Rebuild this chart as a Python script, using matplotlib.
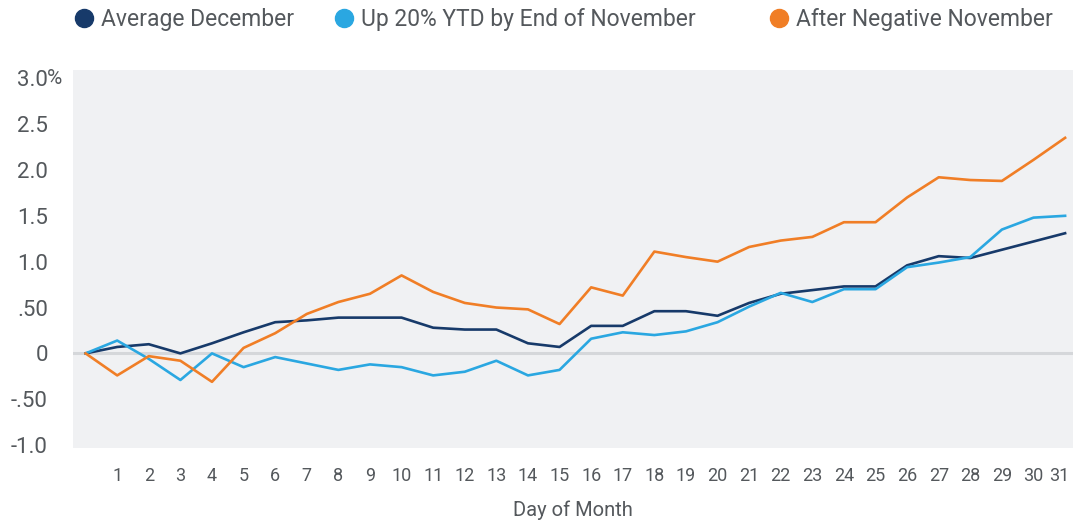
import matplotlib.pyplot as plt
import matplotlib.transforms as mtransforms
from matplotlib import font_manager
from matplotlib.lines import Line2D

# -----------------------------
# Data
# -----------------------------
days = list(range(0, 32))
avg_december = [0, 0.07, 0.10, 0.0, 0.11, 0.23, 0.34, 0.36, 0.39, 0.39, 0.39,
                0.28, 0.26, 0.26, 0.11, 0.07, 0.30, 0.30, 0.46, 0.46, 0.41,
                0.55, 0.65, 0.69, 0.73, 0.73, 0.96, 1.06, 1.04, 1.13, 1.22, 1.31]
up_20_ytd = [0, 0.14, -0.06, -0.29, 0.0, -0.15, -0.04, -0.11, -0.18, -0.12, -0.15,
             -0.24, -0.20, -0.08, -0.24, -0.18, 0.16, 0.23, 0.20, 0.24, 0.34,
             0.51, 0.66, 0.56, 0.70, 0.70, 0.94, 0.99, 1.05, 1.35, 1.48, 1.50]
after_neg_nov = [0, -0.24, -0.03, -0.08, -0.31, 0.06, 0.22, 0.43, 0.56, 0.65, 0.85,
                 0.67, 0.55, 0.50, 0.48, 0.32, 0.72, 0.63, 1.11, 1.05, 1.00,
                 1.16, 1.23, 1.27, 1.43, 1.43, 1.70, 1.92, 1.89, 1.88, 2.11, 2.35]

series = [avg_december, up_20_ytd, after_neg_nov]
labels = ['Average December', 'Up 20% YTD by End of November', 'After Negative November']
colors = ['#173a6a', '#2aa7e1', '#f07e26']

yticks = [-1.0, -0.5, 0, 0.5, 1.0, 1.5, 2.0, 2.5, 3.0]
ytick_labels = ['-1.0', '-.50', '0', '.50', '1.0', '1.5', '2.0', '2.5', '3.0']
xticks = list(range(1, 32))

# -----------------------------
# Style
# -----------------------------
text_color = '#54585c'
main_font = ['Roboto', 'DejaVu Sans']
plt.rcParams['font.family'] = main_font

installed = {f.name for f in font_manager.fontManager.ttflist}
if 'Liberation Sans Narrow' in installed:
    narrow_font = ['Liberation Sans Narrow', 'DejaVu Sans']
    xtick_size = 17
else:
    narrow_font = main_font
    xtick_size = 13

# x (figure fraction) of each legend entry
legend_x = [0.0481, 0.2904, 0.6958]


def main():
    fig = plt.figure(figsize=(10.73, 5.22), dpi=100)
    ax = fig.add_axes([0.068, 0.142, 0.932, 0.724])
    ax.set_facecolor('#f0f1f3')

    ax.axhline(0, color='#d5d7da', lw=2.2, zorder=1)

    for vals, color, label in zip(series, colors, labels):
        ax.plot(days, vals, color=color, lw=1.9, label=label, zorder=3)

    ax.set_xlim(-0.4, 31.25)
    ax.set_ylim(-1.03, 3.09)

    for s in ax.spines.values():
        s.set_visible(False)

    ax.set_yticks(yticks)
    ax.set_yticklabels(ytick_labels)
    ax.set_xticks(xticks)
    ax.set_xticklabels([str(d) for d in xticks])
    ax.tick_params(axis='both', length=0, colors=text_color)
    ax.tick_params(axis='y', pad=18, labelsize=16)
    ax.tick_params(axis='x', pad=14, labelsize=xtick_size)
    xlabels = ax.get_xticklabels()
    for t in xlabels:
        t.set_family(narrow_font)
    # keep the last day label inside the figure
    last = xlabels[-1]
    last.set_transform(last.get_transform() +
                       mtransforms.ScaledTranslation(-4 / 72, 0, fig.dpi_scale_trans))

    # percent sign after the top tick label
    ax.text(-0.026, 3.0, '%', transform=ax.get_yaxis_transform(),
            ha='left', va='center', fontsize=15, color=text_color)

    ax.set_xlabel('Day of Month', fontsize=xtick_size + 1.5, color=text_color,
                  family=narrow_font, labelpad=11)

    # -----------------------------
    # Legend (one entry each, spaced like the original)
    # -----------------------------
    for x, color, label in zip(legend_x, colors, labels):
        h = Line2D([], [], marker='o', ls='', markersize=13, color=color)
        leg = fig.legend([h], [label], loc='upper left', bbox_to_anchor=(x, 1.025),
                         frameon=False, fontsize=16.5, handletextpad=0.25,
                         handlelength=1.0)
        for t in leg.get_texts():
            t.set_color(text_color)

    fig.savefig('out.png', dpi=100)


if __name__ == "__main__":
    main()
